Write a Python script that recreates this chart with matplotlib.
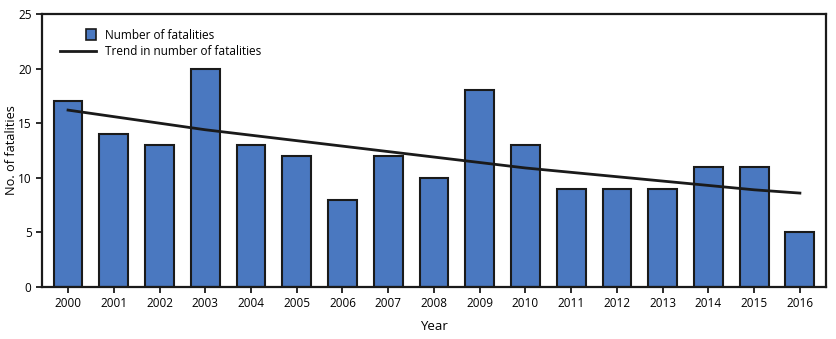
import numpy as np
import matplotlib
matplotlib.use('Agg')
import matplotlib.pyplot as plt
from matplotlib.patches import Rectangle
from matplotlib.lines import Line2D
from matplotlib.legend_handler import HandlerPatch

plt.rcParams['font.family'] = ['Open Sans', 'DejaVu Sans']

years = ['2000', '2001', '2002', '2003', '2004', '2005', '2006', '2007', '2008',
         '2009', '2010', '2011', '2012', '2013', '2014', '2015', '2016']
fatalities = [17, 14, 13, 20, 13, 12, 8, 12, 10, 18, 13, 9, 9, 9, 11, 11, 5]
trend = [16.2, 15.6, 15.0, 14.4, 13.9, 13.4, 12.9, 12.4, 11.9,
         11.4, 10.9, 10.5, 10.1, 9.7, 9.3, 8.9, 8.6]

ftsize = 8.5
bar_color = '#4a78c0'
dark = '#1a1a1a'

# small square legend patch sitting at the right end of the handle box
def square_patch(legend, orig_handle, xdescent, ydescent, width, height, fontsize):
    side = height * 1.25
    return Rectangle((width - side - xdescent, -ydescent + (height - side) / 2), side, side)

fig = plt.figure(figsize=(8.36, 3.39), dpi=100)
ax = fig.add_axes([0.0502, 0.1534, 0.9378, 0.8053])

x = np.arange(len(years))
ax.bar(x, fatalities, width=0.63, color=bar_color, edgecolor=dark, linewidth=1.5, zorder=2)
ax.plot(x, trend, color=dark, linewidth=2, zorder=3)

ax.set_xlim(-0.57, len(years) - 1 + 0.57)
ax.set_ylim(0, 25)
ax.set_yticks([0, 5, 10, 15, 20, 25])
ax.set_xticks(x)
ax.set_xticklabels(years)

for s in ax.spines.values():
    s.set_linewidth(1.6)
    s.set_color(dark)
ax.tick_params(axis='both', labelsize=ftsize, width=1.3, length=4, color=dark)

ax.set_xlabel('Year', fontsize=9.5, labelpad=7)
ax.set_ylabel('No. of fatalities', fontsize=9.2)
ax.yaxis.set_label_coords(-0.031, 0.5)

bar_handle = Rectangle((0, 0), 1, 1, facecolor=bar_color, edgecolor=dark, linewidth=1.2)
line_handle = Line2D([0], [0], color=dark, linewidth=2)
ax.legend([bar_handle, line_handle], ['Number of fatalities', 'Trend in number of fatalities'],
          loc='upper left', bbox_to_anchor=(0.01, 0.985), frameon=False,
          fontsize=ftsize, handlelength=3.0, handletextpad=0.75, labelspacing=0.25,
          handler_map={Rectangle: HandlerPatch(patch_func=square_patch)})

plt.savefig('out.png', dpi=100)
